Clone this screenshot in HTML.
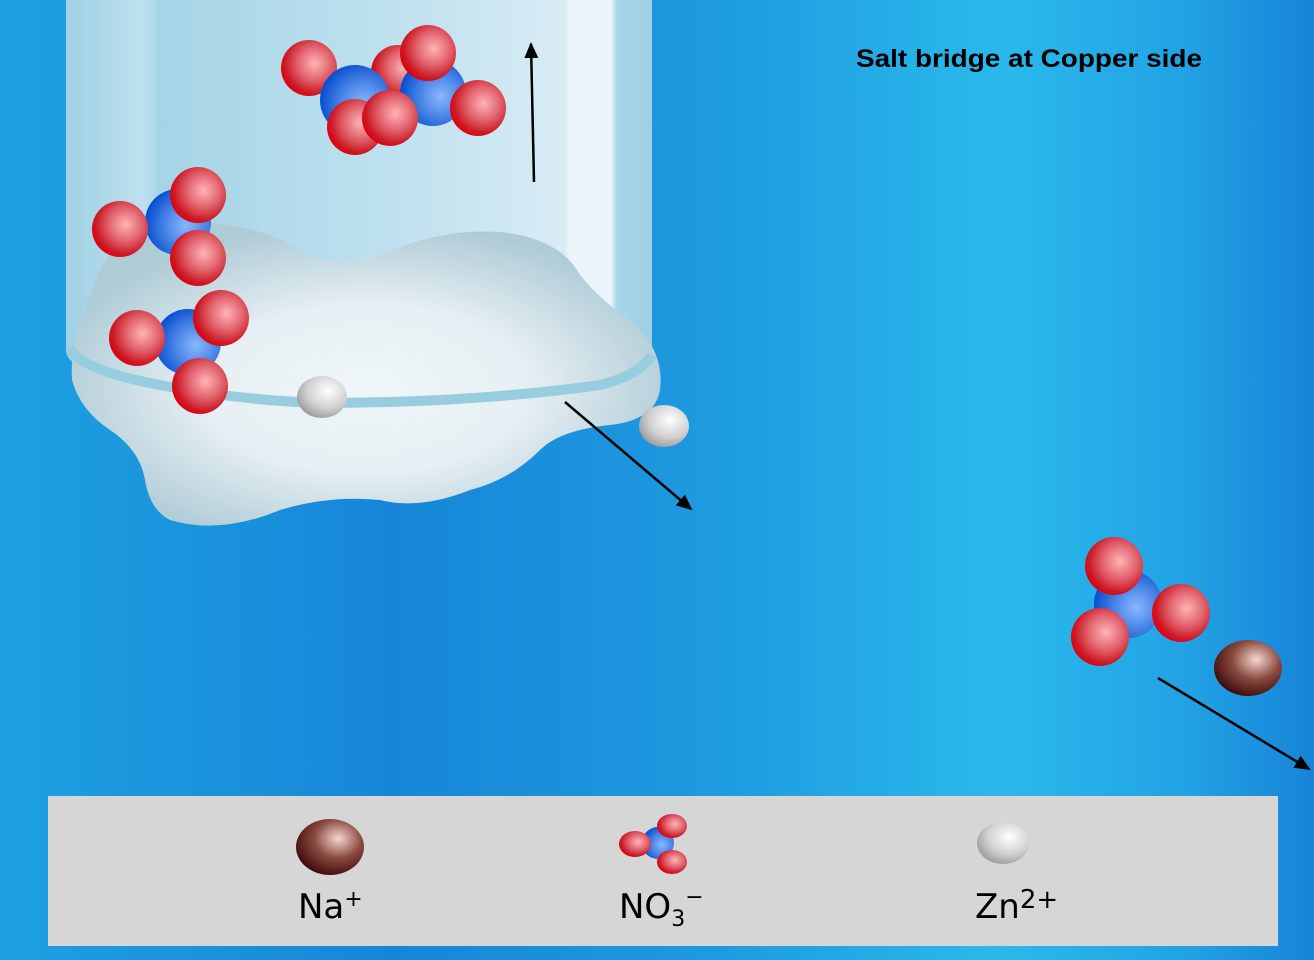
<!DOCTYPE html>
<html><head><meta charset="utf-8"><style>html,body{margin:0;padding:0;overflow:hidden}svg{display:block}</style></head>
<body>
<svg width="1314" height="960" viewBox="0 0 1314 960" xmlns="http://www.w3.org/2000/svg">
<defs>
<linearGradient id="bg" x1="0" y1="0" x2="1" y2="0">
<stop offset="0" stop-color="#1ea0e2"/><stop offset="0.3" stop-color="#1786d8"/><stop offset="0.55" stop-color="#1e9be0"/><stop offset="0.76" stop-color="#2ab9ec"/><stop offset="0.9" stop-color="#22a3e4"/><stop offset="1" stop-color="#1784d8"/>
</linearGradient>
<linearGradient id="tube" x1="0" y1="0" x2="1" y2="0">
<stop offset="0" stop-color="#9fd0e4"/><stop offset="0.13" stop-color="#bfe0ee"/><stop offset="0.16" stop-color="#a6d4e6"/><stop offset="0.6" stop-color="#c2e2ef"/><stop offset="0.85" stop-color="#d8ecf5"/><stop offset="0.86" stop-color="#eaf5fb"/><stop offset="0.93" stop-color="#eaf5fb"/><stop offset="0.94" stop-color="#a8d6e8"/><stop offset="1" stop-color="#9ecfe3"/>
</linearGradient>
<radialGradient id="blob" cx="0.5" cy="0.55" r="0.55">
<stop offset="0" stop-color="#f0f6f9"/><stop offset="0.5" stop-color="#e6eff3"/><stop offset="1" stop-color="#aecbd6"/>
</radialGradient>
<radialGradient id="red" cx="0.6" cy="0.42" r="0.62">
<stop offset="0" stop-color="#ffb4b8"/><stop offset="0.5" stop-color="#e0606a"/><stop offset="0.85" stop-color="#cc1a26"/><stop offset="1" stop-color="#e0000e"/>
</radialGradient>
<radialGradient id="blue" cx="0.62" cy="0.55" r="0.65">
<stop offset="0" stop-color="#8ab8ff"/><stop offset="0.6" stop-color="#3a78e0"/><stop offset="1" stop-color="#0048d0"/>
</radialGradient>
<radialGradient id="zn" cx="0.62" cy="0.35" r="0.7">
<stop offset="0" stop-color="#ffffff"/><stop offset="0.6" stop-color="#d0d0d0"/><stop offset="1" stop-color="#9a9a9a"/>
</radialGradient>
<radialGradient id="na" cx="0.62" cy="0.35" r="0.7">
<stop offset="0" stop-color="#f4d8d0"/><stop offset="0.5" stop-color="#8a4a40"/><stop offset="1" stop-color="#3a0808"/>
</radialGradient>
<marker id="ah" markerWidth="16" markerHeight="14" refX="14" refY="7" orient="auto" markerUnits="userSpaceOnUse"><path d="M0,0 L16,7 L0,14 Z" fill="#000"/></marker>
</defs>
<rect width="1314" height="960" fill="url(#bg)"/>
<path d="M66,0 H652 V350 Q652,362 640,366 L80,366 Q66,360 66,350 Z" fill="url(#tube)"/>
<path d="M100,270 Q120,225 200,222 Q260,225 300,250 Q330,270 380,255 Q440,228 500,232 Q560,238 580,275 Q600,300 630,320 Q665,350 660,390 Q655,420 610,425 Q560,430 540,450 Q510,480 470,490 Q420,510 380,500 Q330,495 280,510 Q220,535 170,520 Q150,510 145,480 Q140,450 110,430 Q80,410 72,380 Q70,340 85,310 Z" fill="url(#blob)"/>
<path d="M70,348 Q80,370 160,385 Q250,402 330,403 Q480,402 600,385 Q640,375 652,355" fill="none" stroke="#98cde0" stroke-width="10"/>
<circle cx="398" cy="72" r="27" fill="url(#red)"/>
<circle cx="309" cy="68" r="28" fill="url(#red)"/>
<circle cx="355" cy="100" r="35" fill="url(#blue)"/>
<circle cx="355" cy="127" r="28" fill="url(#red)"/>
<circle cx="433" cy="93" r="33" fill="url(#blue)"/>
<circle cx="428" cy="53" r="28" fill="url(#red)"/>
<circle cx="478" cy="108" r="28" fill="url(#red)"/>
<circle cx="390" cy="118" r="28" fill="url(#red)"/>
<circle cx="178" cy="222" r="33" fill="url(#blue)"/>
<circle cx="120" cy="229" r="28" fill="url(#red)"/>
<circle cx="198" cy="195" r="28" fill="url(#red)"/>
<circle cx="198" cy="258" r="28" fill="url(#red)"/>
<circle cx="188" cy="342" r="33" fill="url(#blue)"/>
<circle cx="137" cy="338" r="28" fill="url(#red)"/>
<circle cx="221" cy="318" r="28" fill="url(#red)"/>
<circle cx="200" cy="386" r="28" fill="url(#red)"/>
<circle cx="1128" cy="604" r="34" fill="url(#blue)"/>
<circle cx="1114" cy="566" r="29" fill="url(#red)"/>
<circle cx="1181" cy="613" r="29" fill="url(#red)"/>
<circle cx="1100" cy="637" r="29" fill="url(#red)"/>
<ellipse cx="322" cy="397" rx="25" ry="21" fill="url(#zn)"/>
<ellipse cx="664" cy="426" rx="25" ry="21" fill="url(#zn)"/>
<ellipse cx="1248" cy="668" rx="34" ry="28" fill="url(#na)"/>
<line x1="534" y1="182" x2="531" y2="44" stroke="#000" stroke-width="2.5" marker-end="url(#ah)"/>
<line x1="565" y1="402" x2="691" y2="509" stroke="#000" stroke-width="2.5" marker-end="url(#ah)"/>
<line x1="1158" y1="678" x2="1309" y2="769" stroke="#000" stroke-width="2.5" marker-end="url(#ah)"/>
<text x="856" y="67" font-family="Liberation Sans, sans-serif" font-weight="bold" font-size="25" fill="#000" textLength="346" lengthAdjust="spacingAndGlyphs">Salt bridge at Copper side</text>
<rect x="48" y="796" width="1230" height="150" fill="#d6d6d6"/>
<ellipse cx="330" cy="847" rx="34" ry="28" fill="url(#na)"/>
<circle cx="658" cy="843" r="16" fill="url(#blue)"/>
<ellipse cx="635" cy="844" rx="16" ry="13" fill="url(#red)"/>
<ellipse cx="672" cy="826" rx="15" ry="12" fill="url(#red)"/>
<ellipse cx="672" cy="862" rx="15" ry="12" fill="url(#red)"/>
<ellipse cx="1003" cy="843" rx="26" ry="21" fill="url(#zn)"/>
<g font-family="DejaVu Sans, sans-serif" font-size="34" fill="#000">
<text x="298" y="918">Na<tspan font-size="22" dy="-12">+</tspan></text>
<text x="619" y="918">NO<tspan font-size="22" dy="8">3</tspan><tspan font-size="22" dy="-22">−</tspan></text>
<text x="975" y="918">Zn<tspan font-size="26" dy="-10">2+</tspan></text>
</g>
</svg>
</body></html>
